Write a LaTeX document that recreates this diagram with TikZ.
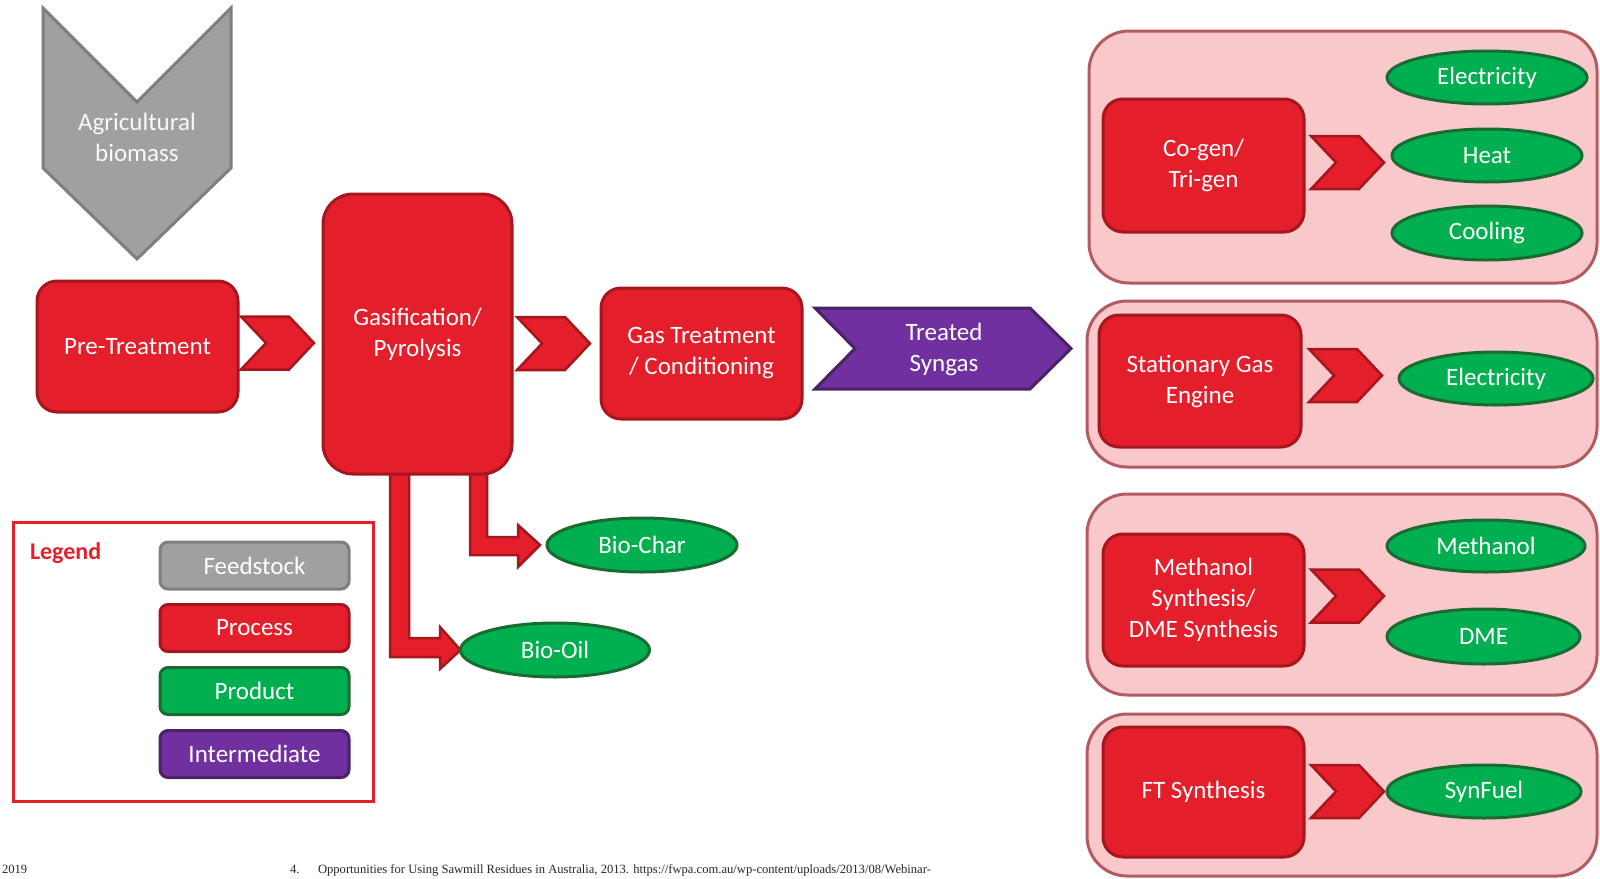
\documentclass[tikz,border=0pt]{standalone}
\usepackage{fontspec}
\setmainfont{Carlito}
\newfontfamily\timesf{Liberation Serif}
\usetikzlibrary{shapes.geometric,backgrounds,calc}
\definecolor{procfill}{HTML}{E41E2B}
\definecolor{procline}{HTML}{A5161D}
\definecolor{prodfill}{HTML}{00B050}
\definecolor{prodline}{HTML}{1A6B32}
\definecolor{interfill}{HTML}{7030A0}
\definecolor{interline}{HTML}{4A2265}
\definecolor{feedfill}{HTML}{A0A0A2}
\definecolor{feedline}{HTML}{7F7F7F}
\definecolor{grpfill}{HTML}{F8C8CB}
\definecolor{grpline}{HTML}{B35B60}
\definecolor{legred}{HTML}{E41E2B}
\newcommand\chevr[2]{\draw[chevstyle] (#1,#2) ++(0,-26.5) -- ++(48,0) -- ++(25,26.5) -- ++(-25,26.5) -- ++(-48,0) -- ++(25,-26.5) -- cycle;}
\begin{document}
\begin{tikzpicture}[x=1pt,y=-1pt,
  every node/.style={inner sep=0pt, outer sep=0pt},
  txt/.style={text=white, font=\fontsize{25}{31}\selectfont, align=center},
  proc/.style={txt, draw=procline, fill=procfill, line width=3pt, rounded corners=20pt, minimum width=201pt, minimum height=131pt},
  prod/.style={txt, ellipse, draw=prodline, fill=prodfill, line width=3pt, minimum width=#1, minimum height=53pt},
  group/.style={draw=grpline, fill=grpfill, line width=3pt, rounded corners=40pt},
  legitem/.style={txt, line width=3pt, rounded corners=8pt, minimum width=189pt, minimum height=47pt},
  chevstyle/.style={draw=procline, fill=procfill, line width=2.5pt, line join=miter},
  bent/.style={draw=procline, fill=procfill, line width=2.5pt, line join=miter},
  footer/.style={font=\timesf\fontsize{12.6}{14}\selectfont, text=black!85, anchor=base west}
]
\useasboundingbox (0,0) rectangle (1600,878);

% right-side groups
\node[group, minimum width=508pt, minimum height=252pt] (g1) at (1343,157) {};
\node[group, minimum width=510pt, minimum height=166pt] (g2) at (1342,384) {};
\node[group, minimum width=510pt, minimum height=201pt] (g3) at (1342,594.5) {};
\node[group, minimum width=510pt, minimum height=162pt] (g4) at (1342,795) {};

% feedstock chevron
\draw[draw=feedline, fill=feedfill, line width=3pt, line join=miter] (43,8) -- (137,102) -- (231,8) -- (231,168) -- (137,259) -- (43,168) -- cycle;
\node[txt, text=white!95!gray] (agri) at (137,137) {Agricultural\\biomass};

% main chain
\node[proc] (pre) at (137.5,346.5) {Pre-Treatment};
\node[proc, rounded corners=30pt, minimum width=189pt, minimum height=280pt] (gas) at (417.5,334) {Gasification/\\Pyrolysis};
\node[proc] (gt) at (701.5,353.5) {Gas Treatment\\/ Conditioning};
\chevr{241}{343}
\chevr{517}{343.5}

% treated syngas
\draw[draw=interline, fill=interfill, line width=3pt, line join=miter] (815,308) -- (1030,308) -- (1071,348.5) -- (1030,389) -- (815,389) -- (855,348.5) -- cycle;
\node[txt] (syn) at (944,349) {Treated\\Syngas};

% by-products
\node[prod=190pt, minimum height=54pt] (char) at (642,545) {Bio-Char};
\node[prod=189pt, minimum height=54pt] (oil) at (555,650) {Bio-Oil};
\begin{scope}[on background layer]
\draw[bent] (470,0 |- gas.south) -- (470,555) -- (518,555) -- (518,567) -- ([xshift=-7pt]char.west) -- (518,525) -- (518,537) -- (487,537) -- (487,0 |- gas.south);
\draw[bent] (390,0 |- gas.south) -- (390,657) -- (440,657) -- (440,669) -- (oil.west) -- (440,627) -- (440,638) -- (409,638) -- (409,0 |- gas.south);
\end{scope}

% group 1
\node[proc, minimum height=133pt] (cogen) at (1203.5,165.5) {Co-gen/\\Tri-gen};
\chevr{1311}{162.5}
\node[prod=200pt] (elec1) at (1487,77.5) {Electricity};
\node[prod=190pt] (heat) at (1487,155.5) {Heat};
\node[prod=190pt, minimum height=54pt] (cool) at (1487,233) {Cooling};

% group 2
\node[proc, minimum width=202pt, minimum height=132pt] (sge) at (1200,381) {Stationary Gas\\Engine};
\chevr{1309}{375.5}
\node[prod=194pt] (elec2) at (1496,378.5) {Electricity};

% group 3
\node[proc, minimum height=132pt] (meth) at (1203.5,600) {Methanol\\Synthesis/\\DME Synthesis};
\chevr{1311}{596}
\node[prod=198pt, minimum height=52pt] (methanol) at (1486,546) {Methanol};
\node[prod=193pt, minimum height=55pt] (dme) at (1483.5,636.5) {DME};

% group 4
\node[proc, minimum height=130pt] (ft) at (1203.5,792) {FT Synthesis};
\chevr{1311}{791.5}
\node[prod=194pt] (synfuel) at (1484,791.5) {SynFuel};

% legend
\node[draw=legred, line width=3pt, minimum width=360pt, minimum height=279pt] (legend) at (193,661.5) {};
\node[anchor=west, text=legred, font=\bfseries\fontsize{24}{28}\selectfont] (legtitle) at (30,553) {Legend};
\node[legitem, draw=feedline, fill=feedfill] (lfeed) at (254.5,565.5) {Feedstock};
\node[legitem, draw=procline, fill=procfill] (lproc) at (254.5,628) {Process};
\node[legitem, draw=prodline, fill=prodfill] (lprod) at (254.5,691) {Product};
\node[legitem, draw=interline, fill=interfill] (linter) at (254.5,754) {Intermediate};

% footer
\node[footer] (f1) at (2,873) {2019};
\node[footer] (f2) at (290,873) {4.};
\node[footer] (f3) at (318,873) {Opportunities for Using Sawmill Residues in Australia, 2013. https://fwpa.com.au/wp-content/uploads/2013/08/Webinar-};
\end{tikzpicture}
\end{document}
